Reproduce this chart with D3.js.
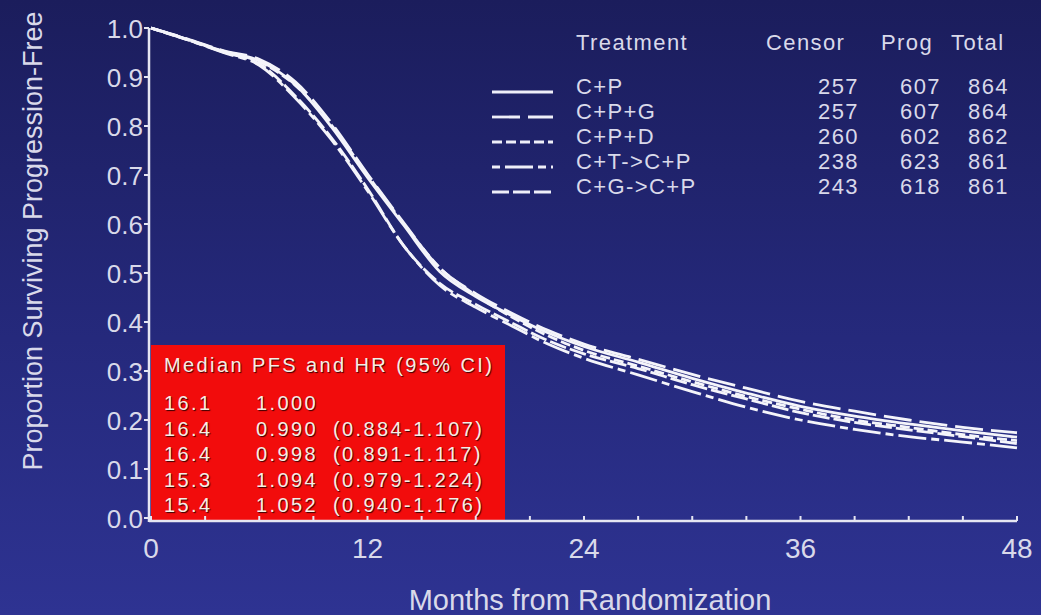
<!DOCTYPE html>
<html>
<head>
<meta charset="utf-8">
<script src="https://cdn.jsdelivr.net/npm/d3@7/dist/d3.min.js"></script>
<style>
  html, body { margin: 0; padding: 0; background: #23277a; }
  svg { display: block; font-family: "Liberation Sans", Arial, sans-serif; }
</style>
</head>
<body>
<svg id="chart" width="1041" height="615"></svg>
<script>
// Progression-free survival by treatment arm (Kaplan-Meier estimates)
const months = [0, 2, 4, 6, 8, 10, 12, 14, 16, 18, 20, 22, 24, 27, 30, 33, 36, 39, 42, 45, 48];

const treatments = ["C+P", "C+P+G", "C+P+D", "C+T->C+P", "C+G->C+P"];
const censor = [257, 257, 260, 238, 243];
const prog = [607, 607, 602, 623, 618];
const total = [864, 864, 862, 861, 861];

const survCP   = [1.0, 0.977, 0.953, 0.933, 0.884, 0.798, 0.695, 0.598, 0.503, 0.452, 0.413, 0.378, 0.350, 0.318, 0.285, 0.255, 0.228, 0.208, 0.192, 0.178, 0.165];
const survCPG  = [1.0, 0.978, 0.954, 0.936, 0.890, 0.806, 0.702, 0.603, 0.510, 0.458, 0.418, 0.383, 0.355, 0.324, 0.293, 0.265, 0.238, 0.218, 0.200, 0.185, 0.174];
const survCPD  = [1.0, 0.976, 0.952, 0.931, 0.883, 0.802, 0.700, 0.601, 0.511, 0.455, 0.410, 0.372, 0.342, 0.310, 0.278, 0.248, 0.222, 0.200, 0.185, 0.170, 0.158];
const survCTCP = [1.0, 0.976, 0.950, 0.924, 0.857, 0.772, 0.668, 0.556, 0.475, 0.430, 0.392, 0.355, 0.326, 0.292, 0.258, 0.226, 0.200, 0.181, 0.166, 0.155, 0.143];
const survCGCP = [1.0, 0.977, 0.951, 0.927, 0.861, 0.776, 0.672, 0.556, 0.479, 0.436, 0.398, 0.362, 0.335, 0.305, 0.272, 0.243, 0.215, 0.195, 0.180, 0.166, 0.152];

const medianPFS = ["16.1", "16.4", "16.4", "15.3", "15.4"];
const hazardRatio = ["1.000", "0.990", "0.998", "1.094", "1.052"];
const hrCI = ["", "(0.884-1.107)", "(0.891-1.117)", "(0.979-1.224)", "(0.940-1.176)"];

const xTicks = [0, 12, 24, 36, 48];
const yTicks = [0, 0.1, 0.2, 0.3, 0.4, 0.5, 0.6, 0.7, 0.8, 0.9, 1.0];

const curves = [survCP, survCPG, survCPD, survCTCP, survCGCP];
const dashes = ["none", "28,8", "10,4", "8,5,28,5", "17,4"];

const svg = d3.select("#chart");
const W = 1041, H = 615;
const textColor = "#d9d9ea";

// background
const defs = svg.append("defs");
const grad = defs.append("linearGradient").attr("id", "bg").attr("x1", 0).attr("y1", 0).attr("x2", 0).attr("y2", 1);
grad.append("stop").attr("offset", "0%").attr("stop-color", "#1b1d5c");
grad.append("stop").attr("offset", "55%").attr("stop-color", "#25297c");
grad.append("stop").attr("offset", "100%").attr("stop-color", "#2e3392");
svg.append("rect").attr("width", W).attr("height", H).attr("fill", "url(#bg)");

const x = d3.scaleLinear().domain([0, 48]).range([151, 1017]);
const y = d3.scaleLinear().domain([0, 1]).range([518, 28]);

// red summary box
const box = svg.append("g");
box.append("rect")
  .attr("x", x(0)).attr("y", 345)
  .attr("width", 354).attr("height", 176)
  .attr("fill", "#f20c0c");

const boxText = box.append("g")
  .attr("fill", "#f6eee6")
  .attr("font-size", 20)
  .style("letter-spacing", "2.4px")
  .style("text-shadow", "1px 1px 1px #3a0000");
boxText.append("text").attr("x", 164).attr("y", 372).text("Median PFS and HR (95% CI)");
medianPFS.forEach((m, i) => {
  const by = 410 + i * 25.5;
  boxText.append("text").attr("x", 164).attr("y", by).text(m);
  boxText.append("text").attr("x", 256).attr("y", by).text(hazardRatio[i]);
  boxText.append("text").attr("x", 333).attr("y", by).text(hrCI[i]);
});

// axes
const axisColor = "#e6e6f2";
const xAxis = svg.append("g").attr("transform", "translate(0,521)");
xAxis.append("line").attr("x1", 149).attr("x2", x(48)).attr("y1", 0).attr("y2", 0)
  .attr("stroke", axisColor).attr("stroke-width", 2.5);
xAxis.selectAll(".minor").data(d3.range(0, 49, 3)).join("line")
  .attr("x1", d => x(d)).attr("x2", d => x(d)).attr("y1", 0).attr("y2", -5)
  .attr("stroke", axisColor).attr("stroke-width", 2);
xAxis.selectAll("text").data(xTicks).join("text")
  .attr("x", d => x(d)).attr("y", 37)
  .attr("text-anchor", "middle").attr("font-size", 28).attr("fill", textColor)
  .text(d => d);

const yAxis = svg.append("g");
yAxis.append("line").attr("x1", 149).attr("x2", 149).attr("y1", y(1)).attr("y2", 522)
  .attr("stroke", axisColor).attr("stroke-width", 2.5);
yAxis.selectAll(".tick").data(yTicks).join("line")
  .attr("x1", 144).attr("x2", 149).attr("y1", d => y(d)).attr("y2", d => y(d))
  .attr("stroke", axisColor).attr("stroke-width", 2);
yAxis.selectAll("text").data(yTicks).join("text")
  .attr("x", 143).attr("y", d => y(d) + 9.5)
  .attr("text-anchor", "end").attr("font-size", 26).attr("fill", textColor)
  .text(d => d3.format(".1f")(d));

svg.append("text")
  .attr("transform", "translate(42,241) rotate(-90)")
  .attr("text-anchor", "middle").attr("font-size", 27).attr("fill", textColor)
  .text("Proportion Surviving Progression-Free");

svg.append("text")
  .attr("x", 590).attr("y", 610)
  .attr("text-anchor", "middle").attr("font-size", 29).attr("fill", textColor)
  .text("Months from Randomization");

// survival curves
const line = d3.line()
  .x((d, i) => x(months[i]))
  .y(d => y(d))
  .curve(d3.curveMonotoneX);

svg.append("g").selectAll("path").data(curves).join("path")
  .attr("d", d => line(d))
  .attr("fill", "none")
  .attr("stroke", "#f4f4fa")
  .attr("stroke-width", 2.8)
  .attr("stroke-dasharray", (d, i) => dashes[i]);

// legend table
const leg = svg.append("g").attr("fill", textColor).attr("font-size", 22).style("letter-spacing", "1.4px");
leg.append("text").attr("x", 576).attr("y", 50).text("Treatment");
leg.append("text").attr("x", 766).attr("y", 50).text("Censor");
leg.append("text").attr("x", 881).attr("y", 50).text("Prog");
leg.append("text").attr("x", 951).attr("y", 50).text("Total");

treatments.forEach((t, i) => {
  const by = 94 + i * 25;
  leg.append("line")
    .attr("x1", 492).attr("x2", 553).attr("y1", by - 2).attr("y2", by - 2)
    .attr("stroke", "#eeeef8").attr("stroke-width", 2.8)
    .attr("stroke-dasharray", dashes[i]);
  leg.append("text").attr("x", 576).attr("y", by).text(t);
  leg.append("text").attr("x", 859).attr("y", by).attr("text-anchor", "end").text(censor[i]);
  leg.append("text").attr("x", 941).attr("y", by).attr("text-anchor", "end").text(prog[i]);
  leg.append("text").attr("x", 1009).attr("y", by).attr("text-anchor", "end").text(total[i]);
});
</script>
</body>
</html>
